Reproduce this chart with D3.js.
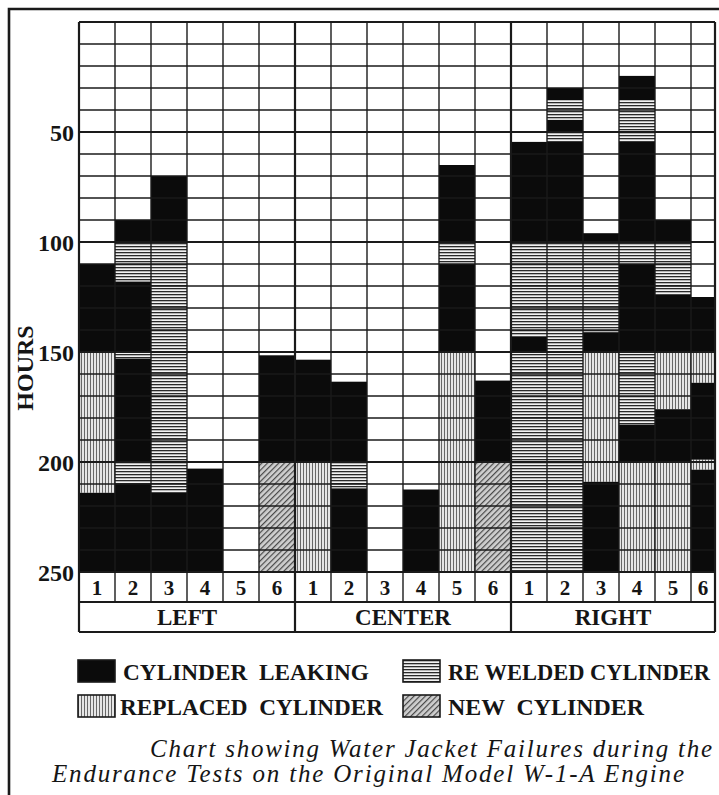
<html>
<head>
<meta charset="UTF-8"/>
<script src="https://d3js.org/d3.v7.min.js"></script>
<title>water jacket failures</title>
<style>
body{margin:0;background:#fff;}
svg{display:block;}
text{font-family:"Liberation Serif","DejaVu Serif",serif;fill:#151515;white-space:pre;}
</style>
</head>
<body>
<svg id='big' width=719 height=795></svg>
<script>
'use strict';

// chart data
var banks = ['LEFT', 'CENTER', 'RIGHT'];
var cylinders = ['1', '2', '3', '4', '5', '6'];
var hourTicks = [50, 100, 150, 200, 250];

// one list per cylinder: [from hour, to hour, kind]
// L = leaking, W = re welded, R = replaced, N = new
var leftBank = [
	[[110,150,'L'],[150,214,'R'],[214,250,'L']],
	[[90,100,'L'],[100,118,'W'],[118,150,'L'],[150,153,'W'],[153,200,'L'],[200,210,'W'],[210,250,'L']],
	[[70,100,'L'],[100,214,'W'],[214,250,'L']],
	[[203,250,'L']],
	[],
	[[151.5,200,'L'],[200,250,'N']]
];
var centerBank = [
	[[153.5,200,'L'],[200,250,'R']],
	[[163.5,200,'L'],[200,212,'W'],[212,250,'L']],
	[],
	[[212.5,250,'L']],
	[[65,100,'L'],[100,110,'W'],[110,150,'L'],[150,250,'R']],
	[[163,200,'L'],[200,250,'N']]
];
var rightBank = [
	[[54.5,100,'L'],[100,143,'W'],[143,150,'L'],[150,250,'W']],
	[[30,35.5,'L'],[35.5,44.5,'W'],[44.5,50,'L'],[50,54.5,'W'],[54.5,100,'L'],[100,250,'W']],
	[[96,100,'L'],[100,141,'W'],[141,150,'L'],[150,209,'R'],[209,250,'L']],
	[[24.5,35.5,'L'],[35.5,54.5,'W'],[54.5,100,'L'],[100,110,'W'],[110,150,'L'],[150,183,'W'],[183,200,'L'],[200,250,'R']],
	[[90,100,'L'],[100,124,'W'],[124,150,'L'],[150,176,'R'],[176,200,'L'],[200,250,'R']],
	[[125,150,'L'],[150,164,'R'],[164,199,'L'],[199,203.5,'R'],[203.5,250,'L']]
];

var legendKinds = ['L', 'W', 'R', 'N'];
var legendLabels = ['CYLINDER  LEAKING', 'RE WELDED CYLINDER', 'REPLACED  CYLINDER', 'NEW  CYLINDER'];
var captionLines = ['Chart showing Water Jacket Failures during the',
	'Endurance Tests on the Original Model W-1-A Engine'];


function init(){
	var svg = d3.select('#big');

	// last column of the print is cut short by the page edge
	svg.sx = d3.scaleLinear().domain([0, 17, 18]).range([79, 691, 715]);
	svg.sy = d3.scaleLinear().domain([0, 250]).range([22, 572]);
	svg.numRow = 602;
	svg.bankRow = 632;

	var defs = svg.append('defs');

	var pw = defs.append('pattern').attr('id', 'pW')
	.attr('patternUnits', 'userSpaceOnUse').attr('width', 6).attr('height', 3);
	pw.append('rect').attr('width', 6).attr('height', 3).attr('fill', '#f2f2f2');
	pw.append('rect').attr('width', 6).attr('height', 1.3).attr('fill', '#2a2a2a');

	var pr = defs.append('pattern').attr('id', 'pR')
	.attr('patternUnits', 'userSpaceOnUse').attr('width', 3).attr('height', 6);
	pr.append('rect').attr('width', 3).attr('height', 6).attr('fill', '#e6e6e6');
	pr.append('rect').attr('width', 0.9).attr('height', 6).attr('fill', '#5a5a5a');

	var pn = defs.append('pattern').attr('id', 'pN')
	.attr('patternUnits', 'userSpaceOnUse').attr('width', 4).attr('height', 4)
	.attr('patternTransform', 'rotate(45)');
	pn.append('rect').attr('width', 4).attr('height', 4).attr('fill', '#cfcfcf');
	pn.append('rect').attr('width', 1.2).attr('height', 4).attr('fill', '#4a4a4a');

	svg.fill = function(kind){
		if(kind == 'L') return '#0b0b0b';
		return 'url(#p' + kind + ')';
	};

	return svg;
}


function drawBars(svg){
	var sx = svg.sx, sy = svg.sy;
	var cols = leftBank.concat(centerBank, rightBank);
	var segs = [];
	cols.forEach(function(col, i){
		col.forEach(function(s){
			segs.push({col: i, from: s[0], to: s[1], kind: s[2]});
		});
	});

	svg.append('g').selectAll('rect')
	.data(segs)
	.enter()
	.append('rect')
	.attr('x', function(d){ return sx(d.col); })
	.attr('width', function(d){ return sx(d.col + 1) - sx(d.col); })
	.attr('y', function(d){ return sy(d.from); })
	.attr('height', function(d){ return sy(d.to) - sy(d.from); })
	.attr('fill', function(d){ return svg.fill(d.kind); });
}


function drawGrid(svg){
	var sx = svg.sx, sy = svg.sy;
	var g = svg.append('g').attr('stroke', '#1a1a1a');

	g.selectAll('.rowline')
	.data(sy.ticks(25))
	.enter()
	.append('line')
	.attr('class', 'rowline')
	.attr('x1', sx(0))
	.attr('x2', sx(18))
	.attr('y1', function(d){ return sy(d); })
	.attr('y2', function(d){ return sy(d); })
	.attr('stroke-width', function(d){ return (d == 0 || d == 250) ? 2.2 : (d % 50 == 0 ? 1.8 : 1.3); });

	g.selectAll('.columnline')
	.data(d3.range(0, 19))
	.enter()
	.append('line')
	.attr('class', 'columnline')
	.attr('x1', function(d){ return sx(d); })
	.attr('x2', function(d){ return sx(d); })
	.attr('y1', sy(0))
	.attr('y2', function(d){ return d % 6 == 0 ? svg.bankRow : svg.numRow; })
	.attr('stroke-width', function(d){ return d % 6 == 0 ? 2.2 : 1.4; });

	g.selectAll('.boxline')
	.data([svg.numRow, svg.bankRow])
	.enter()
	.append('line')
	.attr('x1', sx(0))
	.attr('x2', sx(18))
	.attr('y1', function(d){ return d; })
	.attr('y2', function(d){ return d; })
	.attr('stroke-width', 2);
}


function drawLabels(svg){
	var sx = svg.sx, sy = svg.sy;

	svg.append('g').selectAll('text')
	.data(hourTicks)
	.enter()
	.append('text')
	.text(function(d){ return d; })
	.attr('x', 74)
	.attr('y', function(d){ return sy(d) + 9; })
	.attr('text-anchor', 'end')
	.attr('font-weight', 'bold')
	.attr('font-size', 24);

	svg.append('text')
	.text('HOURS')
	.attr('transform', 'translate(33,368) rotate(-90)')
	.attr('text-anchor', 'middle')
	.attr('font-weight', 'bold')
	.attr('font-size', 24);

	var nums = [];
	banks.forEach(function(b, bi){
		cylinders.forEach(function(c, ci){
			nums.push({col: bi * 6 + ci, label: c});
		});
	});

	svg.append('g').selectAll('text')
	.data(nums)
	.enter()
	.append('text')
	.text(function(d){ return d.label; })
	.attr('x', function(d){ return (sx(d.col) + sx(d.col + 1)) / 2; })
	.attr('y', svg.numRow - 7)
	.attr('text-anchor', 'middle')
	.attr('font-weight', 'bold')
	.attr('font-size', 21);

	svg.append('g').selectAll('text')
	.data(banks)
	.enter()
	.append('text')
	.text(function(d){ return d; })
	.attr('x', function(d, i){ return (sx(i * 6) + sx(i * 6 + 6)) / 2; })
	.attr('y', svg.bankRow - 7)
	.attr('text-anchor', 'middle')
	.attr('font-weight', 'bold')
	.attr('font-size', 23);
}


function drawLegend(svg){
	// printed widths of the legend words
	var labelWidth = [246, 262, 263, 196];

	var item = svg.append('g').selectAll('g')
	.data(legendKinds)
	.enter()
	.append('g')
	.attr('transform', function(d, i){
		return 'translate(' + (i % 2 == 0 ? 78 : 403) + ',' + (i < 2 ? 660 : 695) + ')';
	});

	item.append('rect')
	.attr('width', 37)
	.attr('height', 22)
	.attr('fill', function(d){ return svg.fill(d); })
	.attr('stroke', '#1a1a1a')
	.attr('stroke-width', 1.6);

	item.append('text')
	.text(function(d, i){ return legendLabels[i]; })
	.attr('x', function(d, i){ return i == 2 ? 42 : 45; })
	.attr('y', 20)
	.attr('textLength', function(d, i){ return labelWidth[i]; })
	.attr('lengthAdjust', 'spacingAndGlyphs')
	.attr('font-weight', 'bold')
	.attr('font-size', 23);

	svg.append('g').selectAll('text')
	.data(captionLines)
	.enter()
	.append('text')
	.text(function(d){ return d; })
	.attr('x', function(d, i){ return i == 0 ? 150 : 52; })
	.attr('y', function(d, i){ return i == 0 ? 757 : 782; })
	.attr('textLength', function(d, i){ return i == 0 ? 562 : 632; })
	.attr('lengthAdjust', 'spacing')
	.attr('font-style', 'italic')
	.attr('font-size', 25);
}


function drawFrame(svg){
	svg.append('path')
	.attr('d', 'M9,795 V9 H719')
	.attr('fill', 'none')
	.attr('stroke', '#1a1a1a')
	.attr('stroke-width', 2.6);
}


function main(){
	var svg = init();
	drawBars(svg);
	drawGrid(svg);
	drawLabels(svg);
	drawLegend(svg);
	drawFrame(svg);
	return svg;
}

var svg = main();

</script>
</body>
</html>
